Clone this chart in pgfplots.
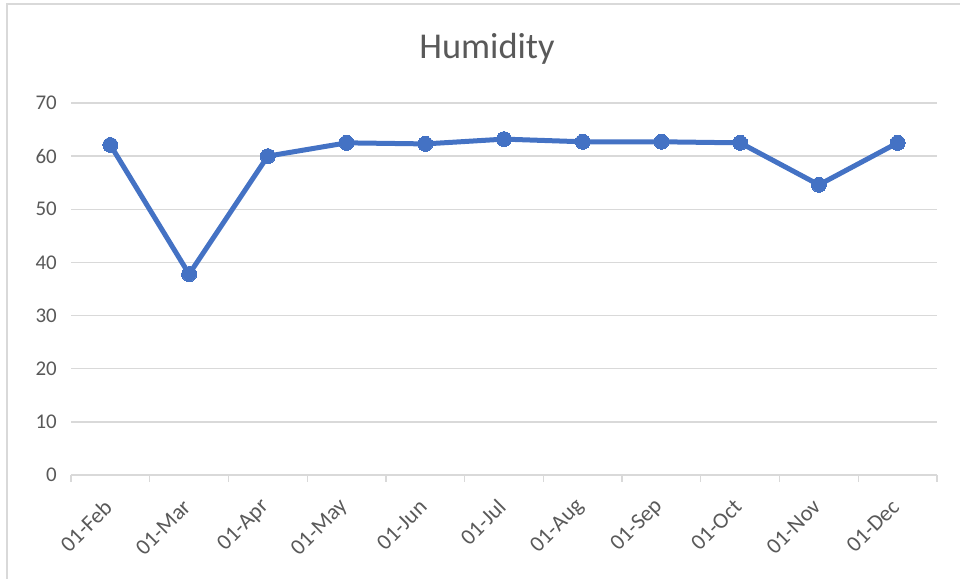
\documentclass[border=0pt]{standalone}
\usepackage{fontspec}
\setmainfont{Carlito}
\usepackage{pgfplots}
\pgfplotsset{compat=1.18}
\definecolor{lineblue}{HTML}{4472C4}
\definecolor{gridgray}{HTML}{D9D9D9}
\definecolor{textgray}{HTML}{595959}
\begin{document}
\begin{tikzpicture}[x=1bp,y=1bp]
\path[use as bounding box] (0,0) rectangle (960,579);
\draw[gridgray, line width=1.5bp] (7,-5) -- (7,575) -- (965,575);
\node[anchor=base, text=textgray, font=\fontsize{36.5}{40}\selectfont, inner sep=0pt] at (487,520) {Humidity};
\begin{axis}[
  at={(71bp,104bp)}, anchor=south west,
  scale only axis, width=866bp, height=372bp,
  xmin=-0.5, xmax=10.5, ymin=0, ymax=70,
  ytick={0,10,...,70},
  ymajorgrids, grid style={gridgray, line width=1.3bp},
  axis x line*=bottom, axis y line*=left,
  x axis line style={-, gridgray, line width=1.3bp},
  y axis line style={draw=none},
  ytick style={draw=none},
  xtick={0,...,10},
  xticklabels={01-Feb,01-Mar,01-Apr,01-May,01-Jun,01-Jul,01-Aug,01-Sep,01-Oct,01-Nov,01-Dec},
  xtick style={draw=none},
  extra x ticks={-0.5,0.5,...,10.5},
  extra x tick labels={},
  extra x tick style={xtick style={draw=gridgray, line width=1.3bp}, major tick length=7bp, xtick align=outside},
  yticklabel style={text=textgray, font=\fontsize{21}{24}\selectfont, inner sep=0pt, anchor=east, xshift=-14bp},
  xticklabel style={text=textgray, font=\fontsize{22.5}{25}\selectfont, inner sep=0pt, rotate=45, anchor=east, xshift=-21.5bp, yshift=-18.5bp},
  /pgf/number format/assume math mode=true,
  clip=false,
]
\addplot[color=lineblue, line width=5bp, mark=*, mark size=7.5bp, mark options={fill=lineblue, draw=lineblue, line width=0pt}]
coordinates {(0,62.1) (1,37.8) (2,60.0) (3,62.5) (4,62.3) (5,63.2) (6,62.7) (7,62.7) (8,62.5) (9,54.6) (10,62.5)};
\end{axis}
\end{tikzpicture}
\end{document}
